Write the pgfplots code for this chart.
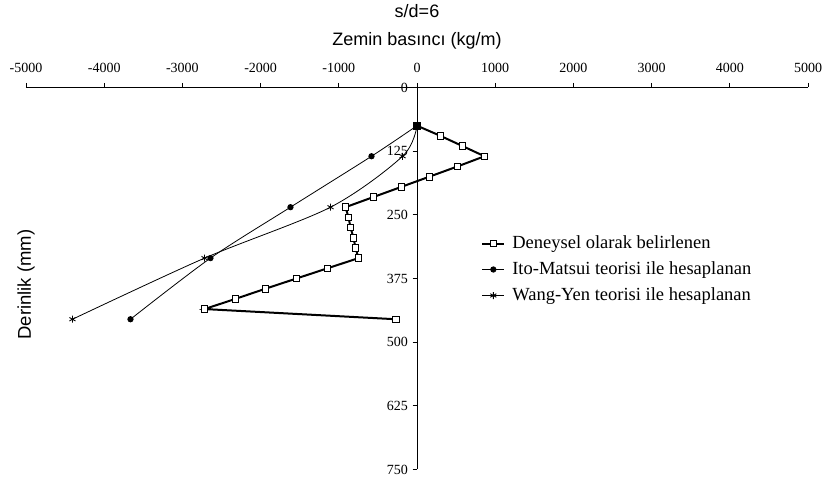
\documentclass[border=0pt]{standalone}
\usepackage{pgfplots}
\pgfplotsset{compat=1.18}
\usepackage{fontspec}
\setmainfont{Liberation Serif}
\newfontfamily\arialfont{Liberation Sans}

% depth (mm) against soil pressure (kg/m)
\pgfplotstableread{
x y
0 75
300 95
582 115
863 135
518 155
160 175
-198 195
-556 215
-914 235
-876 255
-850 275
-812 295
-786 315
-748 335
-1145 355
-1541 375
-1937 395
-2321 415
-2717 435
-270 455
}\deneysel
\pgfplotstableread{
x y
0 75
-582 135
-1618 235
-2641 335
-3664 455
}\itomatsui
\pgfplotstableread{
x y
0 75
-185 135
-1106 235
-2717 335
-4406 455
}\wangyen

\begin{document}
\begin{tikzpicture}
\begin{axis}[
  scale only axis,
  width=782pt, height=382pt,
  xmin=-5000, xmax=5000,
  ymin=0, ymax=750,
  y dir=reverse,
  axis x line=top,
  axis y line=middle,
  hide obscured y ticks=false,
  hide obscured x ticks=false,
  axis line style={line width=0.8pt, -},
  xtick={-5000,-4000,...,5000},
  ytick={0,125,...,750},
  tick align=outside,
  major tick length=4.5pt,
  tick style={line width=0.8pt, black},
  /pgf/number format/assume math mode=true,
  /pgf/number format/1000 sep={},
  tick label style={font=\fontsize{14}{16}\selectfont},
  xticklabel style={yshift=7pt},
  yticklabel style={xshift=-1pt},
  clip=false,
  every axis title/.style={at={(axis description cs:0.5,1)}, anchor=center, yshift=76pt, font=\arialfont\fontsize{18}{21}\selectfont},
  every axis x label/.style={at={(axis description cs:0.5,1)}, anchor=center, yshift=47pt, font=\arialfont\fontsize{18}{21}\selectfont},
  every axis y label/.style={at={(axis description cs:0,0.484)}, rotate=90, anchor=center, font=\arialfont\fontsize{18.5}{21}\selectfont},
  title={s/d=6},
  xlabel={Zemin basıncı (kg/m)},
  ylabel={Derinlik (mm)},
  legend style={at={(axis description cs:0.582,0.617)}, anchor=north west, draw=none, fill=none,
    inner sep=0pt, row sep=7pt, column sep=6pt,
    font=\fontsize{18.5}{22}\selectfont,
    nodes={inner sep=1pt, text height=13pt, text depth=4pt}},
  legend cell align=left,
  legend image code/.code={\draw[mark repeat=2,mark phase=2] plot coordinates {(0pt,0pt)(11pt,0pt)(22pt,0pt)};},
]
\addplot[black, line width=2pt, mark=square*, mark size=3.3pt,
  mark options={fill=white, line width=0.8pt}] table {\deneysel};
\addlegendentry{Deneysel olarak belirlenen}
\addplot[black, line width=0.8pt, smooth, mark=*, mark size=2.7pt] table {\itomatsui};
\addlegendentry{Ito-Matsui teorisi ile hesaplanan}
\addplot[black, line width=0.8pt, smooth, mark=asterisk, mark size=3.5pt,
  mark options={line width=0.9pt}] table {\wangyen};
\addlegendentry{Wang-Yen teorisi ile hesaplanan}
% common starting point of the three curves
\addplot[forget plot, only marks, mark=square*, mark size=3.3pt, black] coordinates {(0,75)};
\end{axis}
% page frame around the axis box
\pgfresetboundingbox
\useasboundingbox (current axis.south west) ++(-26pt,-14.5pt) rectangle ([shift={(16pt,87.5pt)}]current axis.north east);
\end{tikzpicture}
\end{document}
